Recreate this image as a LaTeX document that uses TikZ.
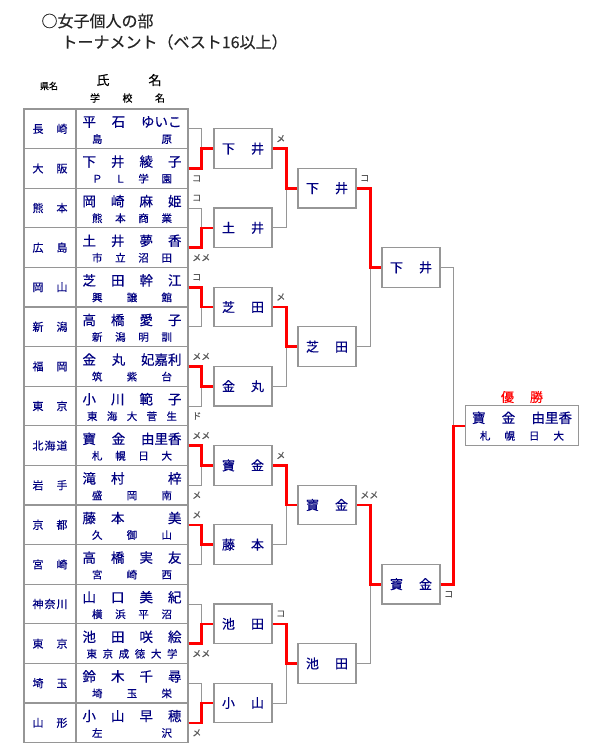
\documentclass[tikz,border=0pt]{standalone}
\usepackage{fontspec}
\setmainfont{Noto Sans CJK JP}[FakeBold=0.35]
\usepackage{xcolor}
\usetikzlibrary{positioning}

\definecolor{navy}{RGB}{0,0,128}
\definecolor{rule}{RGB}{150,150,150}
\definecolor{winred}{RGB}{255,0,0}

\begin{document}
\begin{tikzpicture}[
  x=1pt, y=-1pt,
  cell/.style={draw=rule, line width=1.2pt, minimum height=39.6pt, inner sep=0pt},
  rbox/.style={draw=rule, line width=1.2pt, minimum width=58pt, minimum height=39.6pt, inner sep=0pt, text=navy, font=\fontsize{13}{13}\selectfont},
  lose/.style={draw=rule, line width=0.9pt},
  win/.style={draw=winred, line width=2.6pt},
  mk/.style={font=\fontsize{9}{9}\selectfont, text=black!65, inner sep=0.5pt, anchor=west},
  nm/.style={font=\fontsize{13.5}{13.5}\selectfont, text=navy, inner sep=0pt},
  sch/.style={font=\fontsize{10.5}{10.5}\selectfont, text=navy, inner sep=0pt}
]
\useasboundingbox (0,0) rectangle (600,750);

% heading
\node[anchor=west, text=black!85, font=\fontsize{16}{16}\selectfont] (title) at (38,21) {○女子個人の部};
\node[anchor=west, text=black!85, font=\fontsize{16}{16}\selectfont] (subtitle) at (58,42) {トーナメント（ベスト16以上）};
\node[font=\fontsize{9}{9}\selectfont] (kenmei) at (49,86) {県名};
\node[font=\fontsize{13}{13}\selectfont] (shimei) at (129,80) {\hbox to 65pt{氏\hfill 名}};
\node[font=\fontsize{10}{10}\selectfont] (gakko) at (127.5,98) {\hbox to 75pt{学\hfill 校\hfill 名}};

% players
\foreach \i/\pf/\nme/\sc/\sw in {
  1/{長\hfill 崎}/{平\hfill 石\hfill ゆいこ}/{島\hfill 原}/80,
  2/{大\hfill 阪}/{下\hfill 井\hfill 綾\hfill 子}/{Ｐ\hfill Ｌ\hfill 学\hfill 園}/80,
  3/{熊\hfill 本}/{岡\hfill 崎\hfill 麻\hfill 姫}/{熊\hfill 本\hfill 商\hfill 業}/80,
  4/{広\hfill 島}/{土\hfill 井\hfill 夢\hfill 香}/{市\hfill 立\hfill 沼\hfill 田}/80,
  5/{岡\hfill 山}/{芝\hfill 田\hfill 幹\hfill 江}/{興\hfill 譲\hfill 館}/80,
  6/{新\hfill 潟}/{高\hfill 橋\hfill 愛\hfill 子}/{新\hfill 潟\hfill 明\hfill 訓}/80,
  7/{福\hfill 岡}/{金\hfill 丸\hfill 妃嘉利}/{筑\hfill 紫\hfill 台}/80,
  8/{東\hfill 京}/{小\hfill 川\hfill 範\hfill 子}/{東\hfill 海\hfill 大\hfill 菅\hfill 生}/90,
  9/{北\hfill 海\hfill 道}/{寶\hfill 金\hfill 由里香}/{札\hfill 幌\hfill 日\hfill 大}/80,
  10/{岩\hfill 手}/{滝\hfill 村\hfill\phantom{梓}\hfill 梓}/{盛\hfill 岡\hfill 南}/80,
  11/{京\hfill 都}/{藤\hfill 本\hfill\phantom{美}\hfill 美}/{久\hfill 御\hfill 山}/80,
  12/{宮\hfill 崎}/{高\hfill 橋\hfill 実\hfill 友}/{宮\hfill 崎\hfill 西}/80,
  13/{神\hfill 奈\hfill 川}/{山\hfill 口\hfill 美\hfill 紀}/{横\hfill 浜\hfill 平\hfill 沼}/80,
  14/{東\hfill 京}/{池\hfill 田\hfill 咲\hfill 絵}/{東\hfill 京\hfill 成\hfill 徳\hfill 大\hfill 学}/91,
  15/{埼\hfill 玉}/{鈴\hfill 木\hfill 千\hfill 尋}/{埼\hfill 玉\hfill 栄}/80,
  16/{山\hfill 形}/{小\hfill 山\hfill 早\hfill 穂}/{左\hfill 沢}/80}{
  \node[cell, minimum width=52pt, text=navy, font=\fontsize{11}{11}\selectfont] (pref\i) at (50,{109+39.6*(\i-0.5)}) {\hbox to 35pt{\pf}};
  \node[cell, minimum width=112pt] (player\i) at (132,{109+39.6*(\i-0.5)}) {};
  \node[nm, yshift=6.8pt] (name\i) at (player\i) {\hbox to 99pt{\nme}};
  \node[sch, yshift=-10.2pt] (school\i) at (player\i) {\hbox to \sw pt{\sc}};
}

% winners of each round
\foreach \k/\f/\g in {1/下/井, 2/土/井, 3/芝/田, 4/金/丸, 5/寶/金, 6/藤/本, 7/池/田, 8/小/山}
  \node[rbox] (b8-\k) at (243,{109+79.2*(\k-0.5)}) {\hbox to 42pt{\f\hfill\g}};
\foreach \k/\f/\g in {1/下/井, 2/芝/田, 3/寶/金, 4/池/田}
  \node[rbox] (b4-\k) at (327,{109+158.4*(\k-0.5)}) {\hbox to 42pt{\f\hfill\g}};
\foreach \k/\f/\g in {1/下/井, 2/寶/金}
  \node[rbox] (fin\k) at (411,{109+316.8*(\k-0.5)}) {\hbox to 42pt{\f\hfill\g}};

\node[cell, minimum width=112.6pt, minimum height=40pt] (champ) at (522,425.8) {};
\node[nm, yshift=8pt] (champname) at (champ) {\hbox to 100pt{寶\hfill 金\hfill 由里香}};
\node[sch, yshift=-10pt] (champschool) at (champ) {\hbox to 84pt{札\hfill 幌\hfill 日\hfill 大}};
\node[above=2pt of champ, inner sep=0pt, text=winred, font=\fontsize{13}{13}\selectfont] (yusho) {\hbox to 42pt{優\hfill 勝}};

% bracket lines
\foreach \i in {1,...,16}{
  \pgfmathtruncatemacro\k{(\i+1)/2}
  \draw[lose] (player\i.east) -- ++(13,0) |- (b8-\k.west);
}
\foreach \i in {1,...,8}{
  \pgfmathtruncatemacro\k{(\i+1)/2}
  \draw[lose] (b8-\i.east) -- ++(14,0) |- (b4-\k.west);
}
\foreach \i in {1,...,4}{
  \pgfmathtruncatemacro\k{(\i+1)/2}
  \draw[lose] (b4-\i.east) -- ++(14,0) |- (fin\k.west);
}
\foreach \i in {1,2}
  \draw[lose] (fin\i.east) -- ++(13,0) |- (champ.west);

\foreach \i in {2,4,5,7,9,11,14,16}{
  \pgfmathtruncatemacro\k{(\i+1)/2}
  \draw[win] (player\i.east) -- ++(13,0) |- (b8-\k.west);
}
\foreach \i in {1,3,5,7}{
  \pgfmathtruncatemacro\k{(\i+1)/2}
  \draw[win] (b8-\i.east) -- ++(14,0) |- (b4-\k.west);
}
\foreach \i in {1,3}{
  \pgfmathtruncatemacro\k{(\i+1)/2}
  \draw[win] (b4-\i.east) -- ++(14,0) |- (fin\k.west);
}
\draw[win] (fin2.east) -- ++(13,0) |- (champ.west);

% points
\foreach \n/\t/\s in {player2/コ/-10, player3/コ/10, player4/メメ/-10, player5/コ/10,
  player7/メメ/10, player8/ド/-10, player9/メメ/10, player10/メ/-10, player11/メ/10,
  player14/メメ/-10, player16/メ/-10, b8-1/メ/10, b8-3/メ/10, b8-5/メ/10, b8-7/コ/10,
  b4-1/コ/10, b4-3/メメ/10, fin2/コ/-10}
  \node[mk] at ([xshift=3pt, yshift=\s pt]\n.east) {\t};
\end{tikzpicture}
\end{document}
